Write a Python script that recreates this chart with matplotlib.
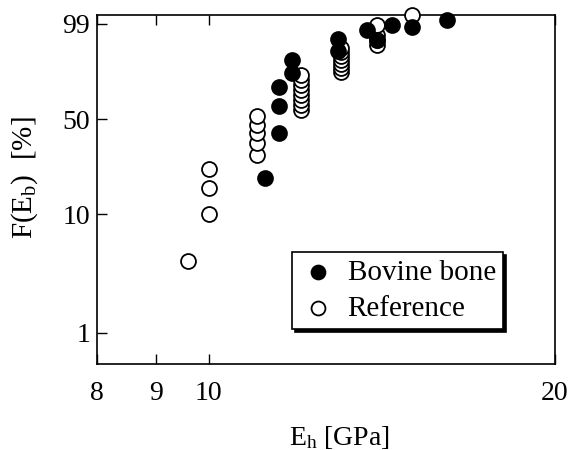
import numpy as np
import matplotlib
matplotlib.use("Agg")
import matplotlib.pyplot as plt
from matplotlib.ticker import FixedLocator, FixedFormatter, NullLocator

plt.rcParams['font.family'] = ['Liberation Serif', 'DejaVu Serif']
plt.rcParams['mathtext.fontset'] = 'custom'
plt.rcParams['mathtext.rm'] = 'Liberation Serif'
plt.rcParams['mathtext.it'] = 'Liberation Serif:italic'

# Bovine bone: bending modulus [GPa] and cumulative failure probability [%]
bovine_E = [11.20, 11.51, 11.51, 11.51, 11.82, 11.82, 12.96, 12.96,
            13.74, 14.01, 14.43, 15.03, 16.11]
bovine_F = [19.5, 41.0, 59.4, 73.1, 82.3, 89.4, 93.2, 96.7,
            98.3, 96.4, 98.9, 98.7, 99.3]

# Reference material
ref_E = [9.60, 10.0, 10.0, 10.0,
         11.02, 11.02, 11.02, 11.02, 11.02,
         12.03, 12.03, 12.03, 12.03, 12.03, 12.03, 12.03, 12.03,
         13.03, 13.03, 13.03, 13.03, 13.03, 13.03, 13.03,
         14.01, 14.01, 14.01, 14.01, 15.03]
ref_F = [4.1, 10.0, 16.2, 22.7,
         28.9, 35.1, 41.0, 46.1, 52.3,
         56.5, 60.1, 63.8, 67.4, 71.0, 74.5, 77.9, 81.1,
         82.9, 85.3, 87.4, 89.4, 91.2, 92.8, 94.2,
         95.1, 96.4, 97.5, 98.9, 99.58]

x_ticks = [8, 9, 10, 20]
y_ticks = [1, 10, 50, 99]


def weibull_fwd(F):
    p = np.clip(np.asarray(F, dtype=float) / 100.0, 1e-9, 1 - 1e-12)
    return np.log(-np.log(1.0 - p))


def weibull_inv(w):
    return 100.0 * (1.0 - np.exp(-np.exp(np.asarray(w, dtype=float))))


fig = plt.figure(figsize=(5.69, 4.5), dpi=100)
ax = fig.add_axes([97 / 569, 1 - 364 / 450, 458 / 569, 349 / 450])

ax.set_xscale('log')
ax.set_yscale('function', functions=(weibull_fwd, weibull_inv))
ax.set_xlim(8, 20)
ax.set_ylim(0.540, 99.58)

ax.scatter(ref_E, ref_F, s=115, facecolor='white', edgecolor='black',
           linewidth=1.3, zorder=3, clip_on=False, label='Reference')
ax.scatter(bovine_E, bovine_F, s=115, facecolor='black', edgecolor='black',
           linewidth=1.3, zorder=4, clip_on=False, label='Bovine bone')

ax.xaxis.set_major_locator(FixedLocator(x_ticks))
ax.xaxis.set_major_formatter(FixedFormatter([str(v) for v in x_ticks]))
ax.xaxis.set_minor_locator(NullLocator())
ax.yaxis.set_major_locator(FixedLocator(y_ticks))
ax.yaxis.set_major_formatter(FixedFormatter([str(v) for v in y_ticks]))
ax.yaxis.set_minor_locator(NullLocator())

ax.tick_params(axis='x', direction='in', length=7, width=1.0, top=True,
               labelsize=20, pad=12)
ax.tick_params(axis='y', direction='in', length=7, width=1.0, right=False,
               labelsize=20, pad=5)
for sp in ax.spines.values():
    sp.set_linewidth(1.2)

ax.set_xlabel(r'E$_\mathrm{h}$ [GPa]', fontsize=20)
ax.xaxis.set_label_coords(0.53, -0.172)
ax.set_ylabel(r'F(E$_\mathrm{b}$)  [%]', fontsize=21)
ax.yaxis.set_label_coords(-0.125, 0.535)

handles, labels = ax.get_legend_handles_labels()
leg = ax.legend(handles[::-1], labels[::-1], loc='upper left',
                bbox_to_anchor=(0.426, 0.321), frameon=True, fancybox=False,
                shadow={'color': 'black', 'alpha': 1.0}, fontsize=21,
                handletextpad=0.35, borderpad=0.25, labelspacing=0.33,
                handlelength=1.3, scatterpoints=1, borderaxespad=0)
leg.get_frame().set_edgecolor('black')
leg.get_frame().set_linewidth(1.2)
for h in leg.legend_handles:
    h.set_sizes([100])

fig.savefig('out.png', dpi=100)
